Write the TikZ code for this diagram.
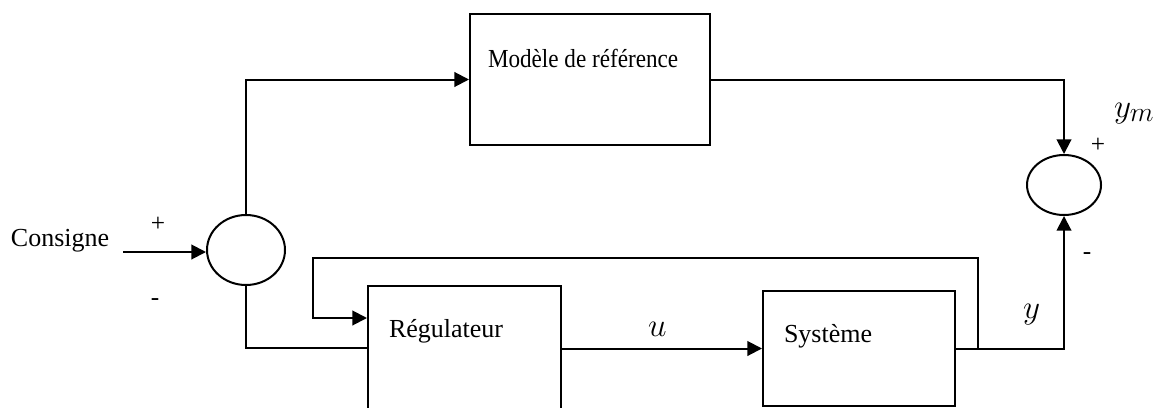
\documentclass[tikz,border=0pt]{standalone}
\usepackage{graphicx}
\usepackage{fontspec}
\setmainfont{Liberation Serif}
\usetikzlibrary{arrows.meta,shapes.geometric,calc}
\begin{document}
\begin{tikzpicture}[x=0.75pt,y=-0.75pt,
  line width=1.5pt,
  arr/.style={-{Triangle[length=11pt,width=11pt]}},
  blk/.style={draw,rectangle,inner sep=0pt,anchor=north west},
  sumnode/.style={draw,ellipse,inner sep=0pt},
  txt/.style={inner sep=0pt,anchor=base west,font=\fontsize{19.5}{22}\selectfont},
  sgn/.style={inner sep=0pt,font=\fontsize{19}{22}\selectfont},
  mth/.style={inner sep=0pt,anchor=base west,font=\fontsize{28}{32}\selectfont}]
\useasboundingbox (0,0) rectangle (1162,407);
% blocks
\node[blk,minimum width=180pt,minimum height=98.25pt] (model) at (469,13) {};
\node[blk,minimum width=144.75pt,minimum height=120pt] (reg) at (367,285) {};
\node[blk,minimum width=144pt,minimum height=86.25pt] (sys) at (762,290) {};
% summing junctions
\node[sumnode,minimum width=58.5pt,minimum height=52.5pt] (c1) at (246,250) {};
\node[sumnode,minimum width=55.5pt,minimum height=45pt] (c2) at (1064,185) {};
% texts
\node[txt] (tmodel) at (487,67) {\scalebox{0.89}[1]{Modèle de référence}};
\node[txt] (treg) at (388,337) {Régulateur};
\node[txt] (tsys) at (783,342) {Système};
\node[txt] (tcons) at (10,246) {Consigne};
\node[mth] (tu) at (647,336) {$u$};
\node[mth] (ty) at (1022,318) {$y$};
\node[mth] (tym) at (1113,117) {$y_m$};
\node[sgn] (p1) at (158,224) {+};
\node[sgn] (m1) at (155,302) {-};
\node[sgn] (p2) at (1098,145) {+};
\node[sgn] (m2) at (1087,256) {-};
% coordinates
\coordinate (in) at (123,252);
\coordinate (regin) at ($(reg.north west)+(0,63)$);
\coordinate (regfb) at ($(reg.north west)+(0,33)$);
\coordinate (fb) at (978,347.5);
% connectors
\draw[arr] (in) -- (c1.west |- in);
\draw[arr] (c1.north) |- (model.west);
\draw[arr] (model.east) -| (c2.north);
\draw (c1.south) |- (regin);
\draw[arr] (reg.east |- sys.west) -- (sys.west);
\draw[arr] (sys.east) -| (c2.south);
\draw[arr] (fb) |- (313,258) |- (regfb);
\end{tikzpicture}
\end{document}
